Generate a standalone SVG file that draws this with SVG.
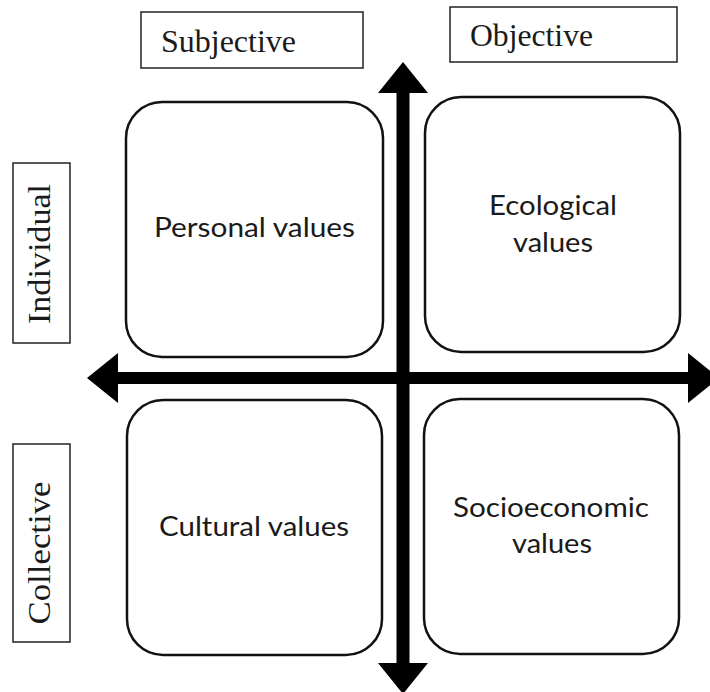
<svg xmlns="http://www.w3.org/2000/svg" width="710" height="692" viewBox="0 0 710 692">
  <style>
    .label { fill: #ffffff; stroke: #222222; stroke-width: 1.5; }
    .label-text { font-family: "Liberation Serif", "Times New Roman", serif; font-size: 32px; fill: #1a1a1a; }
    .quad { fill: #ffffff; stroke: #111111; stroke-width: 2.5; }
    .quad-text { font-family: Lato, "Open Sans", sans-serif; font-size: 27px; fill: #1a1a1a; text-anchor: middle; }
    .axis { fill: #000000; }
  </style>
  <rect width="710" height="692" fill="#ffffff"/>

  <!-- axis labels -->
  <g id="subjective">
    <rect class="label" x="141" y="12" width="222" height="56"/>
    <text class="label-text" x="161" y="52" textLength="135" lengthAdjust="spacingAndGlyphs">Subjective</text>
  </g>
  <g id="objective">
    <rect class="label" x="450" y="7" width="227" height="55"/>
    <text class="label-text" x="470" y="46" textLength="123" lengthAdjust="spacingAndGlyphs">Objective</text>
  </g>
  <g id="individual">
    <rect class="label" x="13" y="163" width="57" height="180"/>
    <text class="label-text" transform="translate(50,254) rotate(-90)" text-anchor="middle" textLength="140" lengthAdjust="spacingAndGlyphs">Individual</text>
  </g>
  <g id="collective">
    <rect class="label" x="13" y="444" width="57" height="198"/>
    <text class="label-text" transform="translate(50,553) rotate(-90)" text-anchor="middle" textLength="143" lengthAdjust="spacingAndGlyphs">Collective</text>
  </g>

  <!-- quadrants -->
  <g id="personal-values">
    <rect class="quad" x="126" y="102" width="257" height="255" rx="36" ry="36"/>
    <text class="quad-text" x="254.5" y="237" textLength="201" lengthAdjust="spacingAndGlyphs">Personal values</text>
  </g>
  <g id="ecological-values">
    <rect class="quad" x="425" y="97" width="255" height="255" rx="36" ry="36"/>
    <text class="quad-text" x="553" y="215" textLength="128" lengthAdjust="spacingAndGlyphs">Ecological</text>
    <text class="quad-text" x="553" y="252" textLength="80" lengthAdjust="spacingAndGlyphs">values</text>
  </g>
  <g id="cultural-values">
    <rect class="quad" x="127" y="400" width="255" height="255" rx="36" ry="36"/>
    <text class="quad-text" x="254" y="536" textLength="190" lengthAdjust="spacingAndGlyphs">Cultural values</text>
  </g>
  <g id="socioeconomic-values">
    <rect class="quad" x="424" y="399" width="255" height="255" rx="36" ry="36"/>
    <text class="quad-text" x="551" y="517" textLength="196" lengthAdjust="spacingAndGlyphs">Socioeconomic</text>
    <text class="quad-text" x="552" y="553" textLength="80" lengthAdjust="spacingAndGlyphs">values</text>
  </g>

  <!-- double-headed axes -->
  <g id="connectors">
    <polygon class="axis" points="87,378 118,353 118,372 688,372 688,353 719,378 688,403 688,384 118,384 118,403"/>
    <polygon class="axis" points="403,62 428,93 409.5,93 409.5,663 428,663 403,694 378,663 396.5,663 396.5,93 378,93"/>
  </g>
</svg>
